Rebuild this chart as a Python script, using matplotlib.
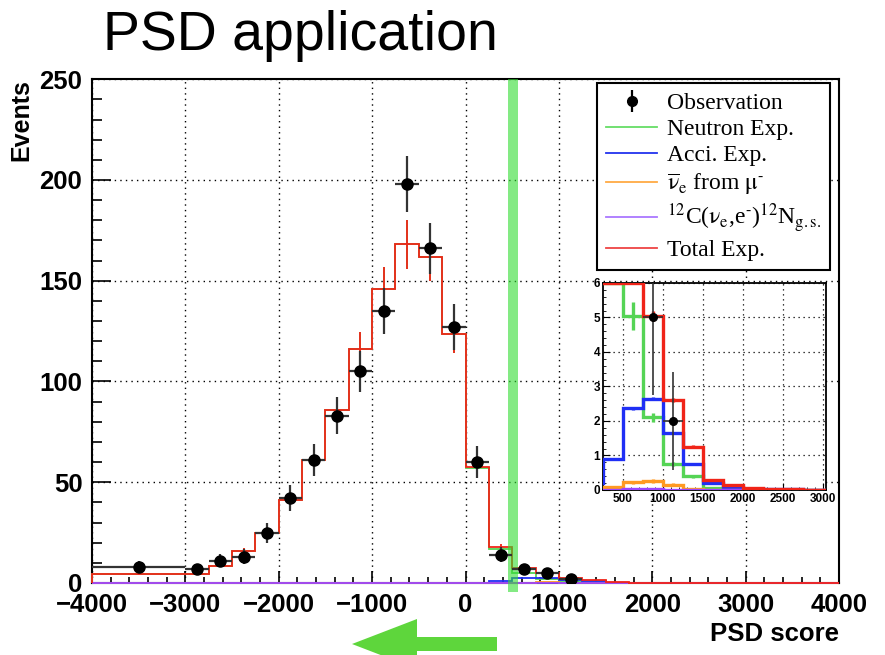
import numpy as np
import matplotlib.pyplot as plt
from matplotlib.lines import Line2D
from matplotlib.patches import Polygon
from matplotlib.transforms import IdentityTransform
from matplotlib.ticker import MultipleLocator
from matplotlib.legend_handler import HandlerTuple

plt.rcParams['font.family'] = ['Liberation Sans', 'DejaVu Sans']
plt.rcParams['mathtext.fontset'] = 'stix'

# PSD score binning (wide bins at both ends)
edges = [-4000, -3000, -2750, -2500, -2250, -2000, -1750, -1500, -1250, -1000,
         -750, -500, -250, 0, 250, 500, 750, 1000, 1250, 1500, 1750, 2000,
         2250, 2500, 2750, 3000, 4000]

obs = [8, 7, 11, 13, 25, 42, 61, 83, 105, 135, 198, 166, 127, 60,
       14, 7, 5, 2, 0, 0, 0, 0, 0, 0, 0, 0]

total = [4.5, 4.2, 8.6, 16, 25, 41, 61, 86, 116, 146, 168, 162, 123.5, 57.5,
         18, 7.6, 5.05, 2.6, 1.25, 0.3, 0.13, 0.05, 0.04, 0.04, 0.01, 0.0]
total_err = [0.4, 0.4, 0.7, 1.2, 2.0, 3.0, 4.5, 6.5, 8.5, 11, 12.3, 12, 9.5, 4.5,
             1.4, 0.4, 0.15, 0.06, 0.04, 0.02, 0.01, 0, 0, 0, 0, 0]

neutron = [4.5, 4.2, 8.6, 16, 25, 41, 61, 86, 116, 146, 168, 162, 123.4, 57.3,
           17.0, 5.05, 2.1, 0.75, 0.4, 0.05, 0.02, 0, 0, 0, 0, 0]
neutron_err = [0.4, 0.4, 0.7, 1.2, 2.0, 3.0, 4.5, 6.5, 8.5, 11, 12.3, 12, 9.5, 4.5,
               1.4, 0.4, 0.13, 0.06, 0.04, 0.01, 0, 0, 0, 0, 0, 0]

acci = [0, 0, 0, 0, 0, 0, 0, 0, 0, 0, 0, 0, 0.05, 0.2,
        0.9, 2.37, 2.65, 1.65, 0.75, 0.2, 0.08, 0.03, 0.02, 0.02, 0.01, 0]
acci_err = [0, 0, 0, 0, 0, 0, 0, 0, 0, 0, 0, 0, 0.01, 0.02,
            0.03, 0.04, 0.04, 0.03, 0.03, 0.02, 0.01, 0, 0, 0, 0, 0]

nubar = [0, 0, 0, 0, 0, 0, 0, 0, 0, 0, 0, 0, 0, 0,
         0.08, 0.22, 0.26, 0.15, 0.03, 0, 0, 0, 0, 0, 0, 0]
nubar_err = [0, 0, 0, 0, 0, 0, 0, 0, 0, 0, 0, 0, 0, 0,
             0.03, 0.05, 0.05, 0.04, 0.02, 0, 0, 0, 0, 0, 0, 0]

c12 = [0, 0, 0, 0, 0, 0, 0, 0, 0, 0, 0, 0, 0, 0,
       0.01, 0.02, 0.02, 0.01, 0.005, 0, 0, 0, 0, 0, 0, 0]
c12_err = [0] * 26

labels = ['Observation', 'Neutron Exp.', 'Acci. Exp.',
          r'$\overline{\mathrm{\nu}}_{\mathrm{e}}$ from $\mathrm{\mu}^{\text{-}}$',
          r'$^{12}$C($\mathrm{\nu}_{\mathrm{e}}$,e$^{\text{-}}$)$^{12}$N$_{\mathrm{g.s.}}$',
          'Total Exp.']

edges_a = np.array(edges, dtype=float)
centers = 0.5 * (edges_a[1:] + edges_a[:-1])
halfw = 0.5 * (edges_a[1:] - edges_a[:-1])
obs_a = np.array(obs, dtype=float)

components = [
    (neutron, neutron_err, '#55d455'),
    (acci, acci_err, '#1f2ff5'),
    (nubar, nubar_err, '#ff9a22'),
    (c12, c12_err, '#9a44ff'),
    (total, total_err, '#f02418'),
]


def draw_hists(a, lw, ymax=None):
    for vals, errs, col in components:
        vals = np.array(vals, dtype=float)
        errs = np.array(errs, dtype=float)
        shown = vals if ymax is None else np.minimum(vals, ymax)
        # keep the empty bins visible on top of the frame line
        a.stairs(shown, edges_a, color=col, lw=lw, zorder=3,
                 clip_on=ymax is not None)
        m = errs > 0
        a.errorbar(centers[m], vals[m], yerr=errs[m], fmt='none',
                   ecolor=col, elinewidth=lw, capsize=0, zorder=3)


def draw_obs(a, mask, ms, lw):
    a.errorbar(centers[mask], obs_a[mask], xerr=halfw[mask],
               yerr=np.sqrt(obs_a[mask]), fmt='o', color='black', ms=ms,
               ecolor='#333333', elinewidth=lw, capsize=0, zorder=5)


fig = plt.figure(figsize=(8.85, 6.55), dpi=100)
ax = fig.add_axes([0.104, 0.110, 0.844, 0.769])

draw_hists(ax, 1.3)
draw_obs(ax, obs_a > 0, 8, 1.6)

# PSD cut position
ax.axvspan(450, 565, ymin=-0.018, ymax=1, color='#33dd33', alpha=0.6, lw=0,
           clip_on=False, zorder=4)

ax.set_xlim(-4000, 4000)
ax.set_ylim(0, 250)
ax.xaxis.set_major_locator(MultipleLocator(1000))
ax.xaxis.set_minor_locator(MultipleLocator(200))
ax.yaxis.set_major_locator(MultipleLocator(50))
ax.yaxis.set_minor_locator(MultipleLocator(10))
ax.grid(True, which='major', color='black', ls=(0, (1, 3)), lw=1.0)
ax.tick_params(which='both', direction='in', top=False, right=False,
               width=1.2, labelsize=18.5)
ax.tick_params(axis='x', which='major', length=9, pad=7)
ax.tick_params(axis='x', which='minor', length=4.5)
ax.tick_params(axis='y', which='major', length=14, pad=7)
ax.tick_params(axis='y', which='minor', length=7)
for lab in ax.get_xticklabels() + ax.get_yticklabels():
    lab.set_fontweight('bold')
for sp in ax.spines.values():
    sp.set_linewidth(1.5)

ax.set_xlabel('PSD score', loc='right', fontsize=18.5, fontweight='bold',
              labelpad=4)
ax.set_ylabel('Events', loc='top', fontsize=18, fontweight='bold', labelpad=4)

handles = [
    (Line2D([], [], marker='|', ms=16, mew=1.6, color='black', ls='none'),
     Line2D([], [], marker='o', ms=7, color='black', ls='none')),
    Line2D([], [], color='#66dd66', lw=1.3),
    Line2D([], [], color='#2233ee', lw=1.3),
    Line2D([], [], color='#ffaa44', lw=1.3),
    Line2D([], [], color='#aa77ff', lw=1.3),
    Line2D([], [], color='#ee4444', lw=1.3),
]
leg = ax.legend(handles, labels, loc='upper right', bbox_to_anchor=(0.988, 0.992),
                prop={'family': 'Liberation Serif', 'size': 17},
                handler_map={tuple: HandlerTuple(ndivide=1)},
                fancybox=False, framealpha=1, edgecolor='black',
                handlelength=2.15, handletextpad=0.42, labelspacing=0.2,
                borderpad=0.38, borderaxespad=0)
leg.get_frame().set_linewidth(1.5)
leg.set_zorder(10)

# zoom on the signal region
ins = fig.add_axes([0.681, 0.252, 0.252, 0.316])
draw_hists(ins, 2.4, ymax=6)
in_range = (obs_a > 0) & (obs_a < 6)
draw_obs(ins, in_range, 5.5, 1.2)
ins.set_xlim(250, 3030)
ins.set_ylim(0, 6)
ins.xaxis.set_major_locator(MultipleLocator(500))
ins.xaxis.set_minor_locator(MultipleLocator(100))
ins.yaxis.set_major_locator(MultipleLocator(1))
ins.yaxis.set_minor_locator(MultipleLocator(0.2))
ins.grid(True, which='major', color='black', ls=(0, (1, 3)), lw=0.9)
ins.tick_params(which='both', direction='in', top=False, right=False,
                labelsize=8.5, pad=2)
ins.tick_params(which='major', length=5)
ins.tick_params(which='minor', length=2.5)
for lab in ins.get_xticklabels() + ins.get_yticklabels():
    lab.set_fontweight('bold')
for sp in ins.spines.values():
    sp.set_linewidth(1.3)

fig.text(0.1164, 0.924, 'PSD application', fontsize=40, va='baseline',
         ha='left')

# arrow under the axis pointing to the selected side
arrow = Polygon([(352, 11), (417, 36), (417, 18), (497, 18), (497, 4),
                 (417, 4), (417, -14)], closed=True, color='#5ed63c', lw=0,
                transform=IdentityTransform(), clip_on=False)
fig.add_artist(arrow)

fig.savefig('out.png', dpi=100)
